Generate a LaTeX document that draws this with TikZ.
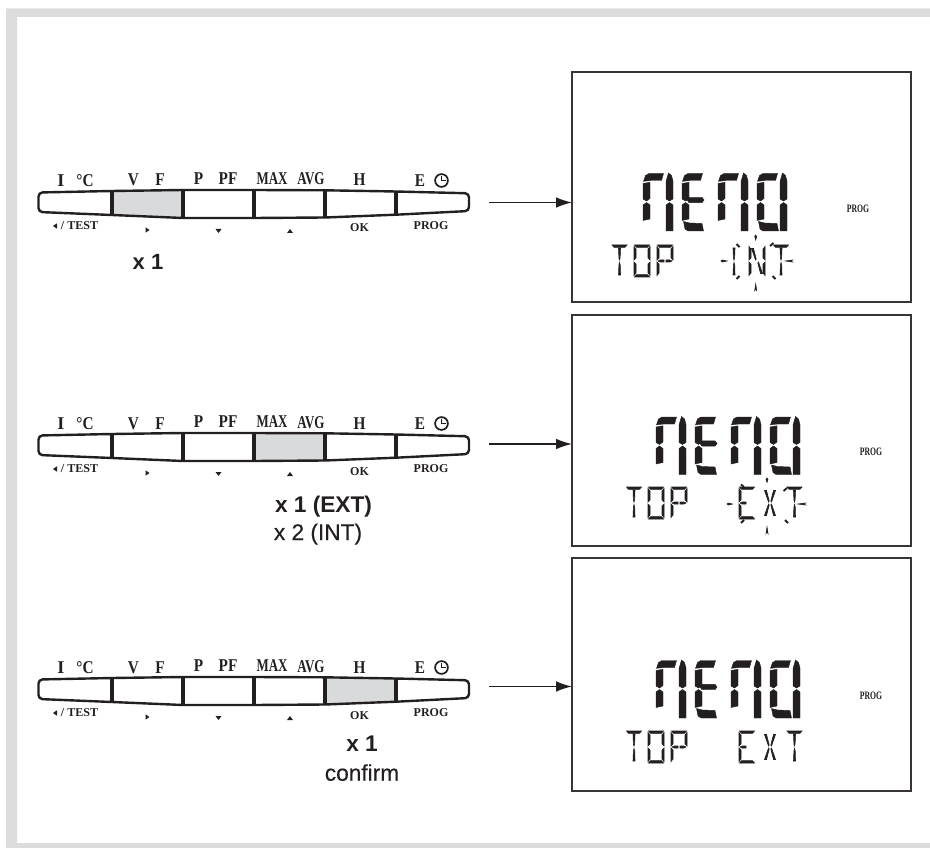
\documentclass[tikz,border=0pt]{standalone}
\usepackage{fontspec}
\setmainfont{Liberation Serif}
\setsansfont{Liberation Sans}
\usetikzlibrary{arrows.meta}
\definecolor{framegray}{HTML}{DCDCDC}
\definecolor{keygray}{HTML}{D9DADB}
\definecolor{lcd}{HTML}{231F20}
\tikzset{
  px/.style={x=.75pt,y=-.75pt},
  lcdbox/.style={draw=lcd!90,line width=1pt,fill=white,minimum width=254.25pt,inner sep=0pt,outer sep=0pt},
  flow/.style={-{Latex[length=12pt,width=8pt]},line width=1.1pt,draw=lcd},
  keytop/.style={anchor=base,inner sep=0pt,text=lcd,font=\fontsize{13.5}{14}\selectfont\bfseries},
  keylow/.style={anchor=base,inner sep=0pt,text=lcd,font=\fontsize{9}{10}\selectfont\bfseries},
  prog/.style={anchor=base,inner sep=0pt,text=lcd,font=\fontsize{8.5}{9}\selectfont\bfseries},
  step label/.style={anchor=base,inner sep=0pt,text=lcd,font=\fontsize{17}{19}\selectfont\sffamily\bfseries},
  step plain/.style={anchor=base,inner sep=0pt,text=lcd,font=\fontsize{17}{19}\selectfont\sffamily\addfontfeature{FakeBold=0.4}},
  seg/.style={fill=lcd,draw=lcd,line width=.3pt},
  sseg/.style={fill=lcd,draw=lcd,line width=.45pt}
}
\newcommand{\sq}[1]{\scalebox{.85}[1]{#1}}
\newcommand{\sqq}[1]{\scalebox{.72}[1]{#1}}
\newcommand{\sqp}[1]{\scalebox{.68}[1]{#1}}
% big segments
\newcommand{\Ba}{\fill[seg] (.5,8.3)--(2.5,2.5)--(6,.5)--(20.5,.5)--(18.5,7.5)--(8,7.5)--cycle;}
\newcommand{\Bf}{\fill[seg] (0,10.5)--(7,9.3)--(7,25.5)--(3.5,28)--(0,26)--cycle;}
\newcommand{\Bb}{\fill[seg] (23,8.5)--(25.5,0)--(28.5,2.5)--(30,8)--(30,26)--(26.5,28)--(23,26)--cycle;}
\newcommand{\Be}{\fill[seg] (0,32)--(3.5,29.5)--(7,32)--(7,46)--(0,47.5)--cycle;}
\newcommand{\Bc}{\fill[seg] (23,32)--(26.5,29.5)--(30,32)--(30,58)--(23,58)--cycle;}
\newcommand{\Bd}{\fill[seg] (1.5,48.5)--(7.5,50)--(20,50.5)--(21.5,58)--(6,58)--(3,56)--cycle;}
\newcommand{\Bg}{\fill[seg] (5,27)--(7,24.3)--(20,24.3)--(22,27)--(20,29.7)--(7,29.7)--cycle;}
\newcommand{\BigWord}[2]{%
  \begin{scope}[shift={(#1,#2)}]
    \begin{scope}[shift={(0,0)}]\Ba\Bf\Bb\Be\Bc\end{scope}
    \begin{scope}[shift={(39,0)}]\Ba\Bf\Be\Bg\Bd\end{scope}
    \begin{scope}[shift={(75,0)}]\Ba\Bf\Bb\Be\Bc\end{scope}
    \begin{scope}[shift={(114,0)}]\Ba\Bf\Bb\Be\Bc\Bd\end{scope}
  \end{scope}}
% small segments
\newcommand{\Sa}{\fill[sseg] (.5,0)--(15.5,0)--(13.5,2.3)--(2.5,2.3)--cycle;}
\newcommand{\Sd}{\fill[sseg] (.5,32)--(15.5,32)--(13.5,29.7)--(2.5,29.7)--cycle;}
\newcommand{\Sf}{\fill[sseg] (0,1.5)--(2,4)--(2,13)--(0,15)--cycle;}
\newcommand{\Sb}{\fill[sseg] (16,1.5)--(14,4)--(14,13)--(16,15)--cycle;}
\newcommand{\Se}{\fill[sseg] (0,17)--(2,19)--(2,28)--(0,30.5)--cycle;}
\newcommand{\Sc}{\fill[sseg] (16,17)--(14,19)--(14,28)--(16,30.5)--cycle;}
\newcommand{\Sgl}{\fill[sseg] (1,16)--(3,15)--(7,15)--(7,17)--(3,17)--cycle;}
\newcommand{\Sgr}{\fill[sseg] (15,16)--(13,15)--(9,15)--(9,17)--(13,17)--cycle;}
\newcommand{\Sm}{\fill[sseg] (7,3)--(9,3)--(8.6,13)--(8,15)--(7.4,13)--cycle;
  \fill[sseg] (8,17.5)--(8.7,20)--(9,30)--(7,30)--(7.4,20)--cycle;}
\newcommand{\Stl}{\fill[sseg] (2.5,3.5)--(4.5,3.5)--(7.2,14)--(6.5,15)--cycle;}
\newcommand{\Str}{\fill[sseg] (13.5,3.5)--(11.5,3.5)--(8.8,14)--(9.5,15)--cycle;}
\newcommand{\Sbl}{\fill[sseg] (2.5,28.5)--(4.5,28.5)--(7.2,18)--(6.5,17)--cycle;}
\newcommand{\Sbr}{\fill[sseg] (13.5,28.5)--(11.5,28.5)--(8.8,18)--(9.5,17)--cycle;}
\newcommand{\ChT}[2]{\begin{scope}[shift={(#1,#2)}]\Sa\Sm\end{scope}}
\newcommand{\ChO}[2]{\begin{scope}[shift={(#1,#2)}]\Sa\Sf\Sb\Se\Sc\Sd\end{scope}}
\newcommand{\ChP}[2]{\begin{scope}[shift={(#1,#2)}]\Sa\Sf\Sb\Se\Sgl\Sgr\end{scope}}
\newcommand{\ChE}[2]{\begin{scope}[shift={(#1,#2)}]\Sa\Sf\Se\Sgl\Sd\end{scope}}
\newcommand{\ChX}[2]{\begin{scope}[shift={(#1,#2)}]\Stl\Str\Sbl\Sbr\end{scope}}
\newcommand{\ChN}[2]{\begin{scope}[shift={(#1,#2)}]\Sf\Se\Sb\Sc\Stl\Sbr\end{scope}}
\newcommand{\ChI}[2]{\begin{scope}[shift={(#1,#2)}]\Sm\end{scope}}
\newcommand{\TickH}[3]{\fill[sseg] (#1,#3)--({#1+1.5},{#3-1})--({#2},#3)--({#1+1.5},{#3+1})--cycle;}
\newcommand{\TickV}[3]{\fill[sseg] (#1,#2)--({#1+1},{#2+1.5})--(#1,#3)--({#1-1},{#2+1.5})--cycle;}
\newcommand{\TickD}[4]{\draw[lcd,line width=1.4pt] (#1,#2)--(#3,#4);}
% key strip: #1 index, #2 y shift, #3 grey polygon, #4 arrow start y (local)
\newcommand{\KeyStrip}[4]{%
  \begin{scope}[shift={(0,#2)}]
    \fill[keygray] #3 -- cycle;
    \draw[lcd,line width=1.8pt,line join=round,rounded corners=3pt]
      (38.5,203)--(38.5,192.5)--(112,191)--(183,190)--(254,190)--(325,190.3)--(396,191.5)--(469,193.3)--(469,211)--(396,214.7)--(325,217.5)--(254,218)--(183,218)--(112,215)--(38.5,212)--cycle;
    \foreach \dx/\ya/\yb in {112/191/215,183/190/218,254/190/218,325/190.3/217.5,396/191.5/214.7}
      \draw[lcd,line width=2.3pt] (\dx,\ya)--(\dx,\yb);
    \node[keytop] (k#1a) at (61,186.5) {I};
    \node[keytop] (k#1b) at (85,186.5) {\sq{°C}};
    \node[keytop] (k#1c) at (133.5,186) {\sq{V}};
    \node[keytop] (k#1d) at (160,186) {\sq{F}};
    \node[keytop] (k#1e) at (198.5,184.5) {\sq{P}};
    \node[keytop] (k#1f) at (228,184.5) {\sq{PF}};
    \node[keytop] (k#1g) at (272,184.5) {\sqq{MAX}};
    \node[keytop] (k#1h) at (311,185) {\sqq{AVG}};
    \node[keytop] (k#1i) at (359.5,186) {\sq{H}};
    \node[keytop] (k#1j) at (420,186.5) {\sq{E}};
    \draw[lcd,line width=1.3pt] (441.5,180.5) circle (6.4);
    \draw[lcd,line width=1.1pt] (441.5,176)--(441.5,180.5)--(446,180.5);
    \fill[lcd] (53,226)--(57,223.3)--(57,228.7)--cycle;
    \node[keylow] (k#1k) at (79.5,229.5) {/ TEST};
    \fill[lcd] (149.5,230)--(145.5,227.3)--(145.5,232.7)--cycle;
    \fill[lcd] (218.5,233)--(215.5,229)--(221.5,229)--cycle;
    \fill[lcd] (290,229)--(287,233)--(293,233)--cycle;
    \node[keylow] (k#1l) at (359.5,232) {OK};
    \node[keylow] (k#1m) at (431,229.5) {PROG};
    \coordinate (strip#1) at (489,#4);
  \end{scope}}
\begin{document}
\begin{tikzpicture}[px]
\useasboundingbox (0,0) rectangle (930,848);
\fill[framegray] (930,8.5)--(6,8.5)--(6,848)--(930,848)--(930,843)--(17,843)--(17,17)--(930,17)--cycle;

\node[lcdbox,minimum height=172.5pt] (box1) at (741.5,187) {};
\node[lcdbox,minimum height=173.25pt] (box2) at (741.5,430.5) {};
\node[lcdbox,minimum height=174.75pt] (box3) at (741.5,674.5) {};

\KeyStrip{1}{0}{(112,191)--(183,190)--(183,218)--(112,215)}{202.5}
\KeyStrip{2}{243}{(254,190)--(325,190.3)--(325,217.5)--(254,218)}{201}
\KeyStrip{3}{487}{(325,190.3)--(396,191.5)--(396,214.7)--(325,217.5)}{199.5}

\draw[flow] (strip1) -- (box1.west |- strip1);
\draw[flow] (strip2) -- (box2.west |- strip2);
\draw[flow] (strip3) -- (box3.west |- strip3);

\node[step label,font=\fontsize{16.5}{19}\selectfont\sffamily\bfseries] (s1) at (148,270) {x 1};
\node[step label] (s2) at (323.5,512.7) {x 1 (EXT)};
\node[step plain] (s3) at (318,540) {x 2 (INT)};
\node[step label] (s4) at (362,751.7) {x 1};
\node[step plain] (s5) at (362,780.7) {confirm};

\node[prog] (p1) at (858,212.5) {\sqp{PROG}};
\node[prog] (p2) at (871,455) {\sqp{PROG}};
\node[prog] (p3) at (871,699) {\sqp{PROG}};

\BigWord{643}{173}
\BigWord{656}{416.5}
\BigWord{656}{660}

% panel 1: TOP INT with rays
\ChT{611.5}{245}\ChO{634}{245}\ChP{657}{245}
\ChI{726}{245}\ChN{749}{245}\ChT{773}{245}
\TickH{721}{727}{261}\TickH{791}{785.5}{261}
\TickV{755.7}{235}{240}\TickV{755.7}{289}{284}
\TickD{736.5}{244}{739.5}{247}
\TickD{736.5}{279}{739.5}{276}
\TickD{770}{246}{773.5}{243}
\TickD{772.5}{276}{775.5}{279}

% panel 2: TOP EXT with rays
\ChT{626}{487}\ChO{648}{487}\ChP{671}{487}
\ChE{739}{487}\ChX{762}{487}\ChT{786.5}{487}
\TickH{727}{732.5}{504}\TickH{804}{798}{504}
\TickV{767}{478}{482.5}\TickV{767}{532}{527}
\TickD{741}{484.5}{744}{487}
\TickD{783.5}{491}{787}{488}
\TickD{785}{520}{788}{523}
\TickD{741}{523}{744}{520}

% panel 3: TOP EXT
\ChT{626}{731}\ChO{648}{731}\ChP{671}{731}
\ChE{739}{731}\ChX{762}{731}\ChT{786.5}{731}
\end{tikzpicture}
\end{document}
